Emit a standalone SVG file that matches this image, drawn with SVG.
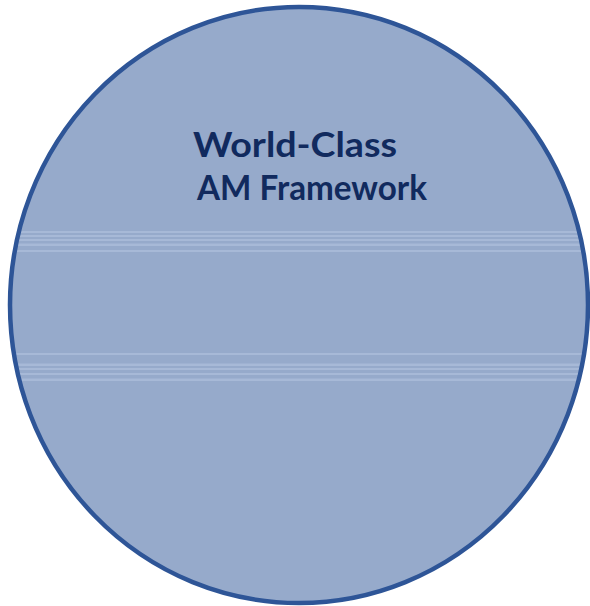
<svg xmlns="http://www.w3.org/2000/svg" width="590" height="606" viewBox="0 0 590 606">
<style>
.band{fill:#A9BAD8;opacity:0.9}
.t{font-family:Lato,"Liberation Sans",sans-serif;font-weight:bold;font-size:35px;fill:#112A5E;text-anchor:middle}
</style>
<defs>
<clipPath id="c"><ellipse cx="299" cy="305" rx="288" ry="297"/></clipPath>
</defs>
<rect width="590" height="606" fill="#FFFFFF"/>
<g id="circle">
<ellipse cx="299" cy="305" rx="289" ry="298" fill="#96AACB"/>
<g clip-path="url(#c)">
<rect class="band" x="0" y="231" width="590" height="2"/>
<rect class="band" x="0" y="235" width="590" height="2"/>
<rect class="band" x="0" y="239" width="590" height="2"/>
<rect class="band" x="0" y="243.5" width="590" height="2.5"/>
<rect class="band" x="0" y="250" width="590" height="2"/>
<rect class="band" x="0" y="353" width="590" height="2"/>
<rect class="band" x="0" y="363.5" width="590" height="2.5"/>
<rect class="band" x="0" y="368" width="590" height="2"/>
<rect class="band" x="0" y="373" width="590" height="2"/>
<rect class="band" x="0" y="378.5" width="590" height="2.5"/>
</g>
<ellipse cx="299" cy="305" rx="289" ry="298" fill="none" stroke="#2E5597" stroke-width="4.5"/>
<text class="t" x="295" y="157" textLength="204" lengthAdjust="spacingAndGlyphs">World-Class</text>
<text class="t" x="312" y="200" textLength="230" lengthAdjust="spacingAndGlyphs">AM Framework</text>
</g>
</svg>
